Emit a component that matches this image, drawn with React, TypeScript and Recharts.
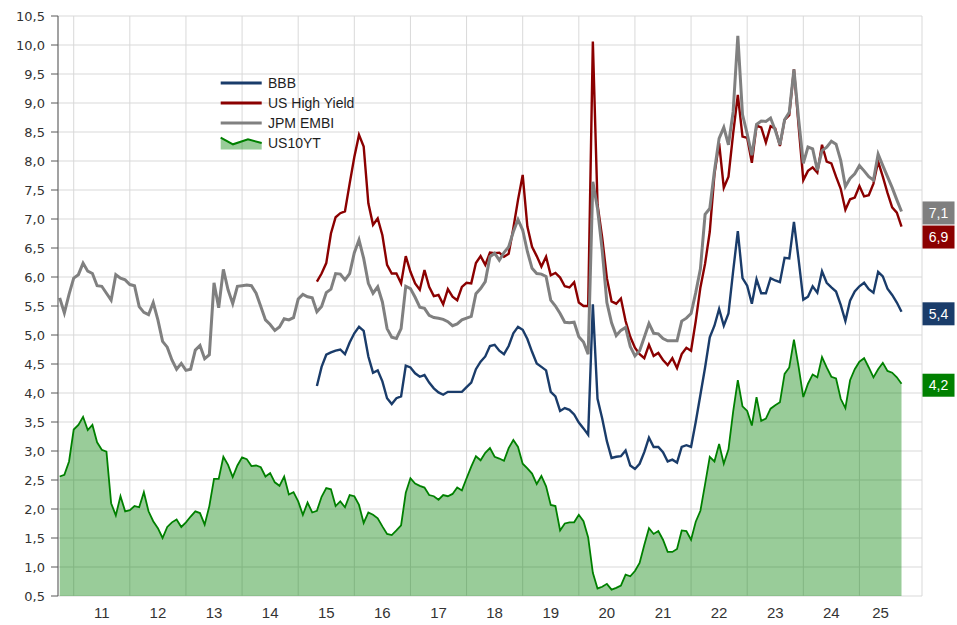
import { ComposedChart, Line, Area, XAxis, YAxis, CartesianGrid, Legend } from 'recharts'

// monthly observations, first one is Oct 2010
const FIRST_YEAR = 2010
const FIRST_MONTH = 10
// BBB and US High Yield only start in May 2015 (55 months later)
const CREDIT_OFFSET = 55

const us10yt = [
  2.56, 2.59, 2.82, 3.37, 3.45, 3.59, 3.36, 3.45, 3.15, 3.02,
  2.99, 2.10, 1.89, 2.22, 1.96, 1.98, 2.05, 2.03, 2.29, 1.96,
  1.79, 1.67, 1.50, 1.69, 1.77, 1.82, 1.69, 1.77, 1.87, 1.96,
  1.93, 1.73, 2.05, 2.52, 2.52, 2.90, 2.76, 2.55, 2.75, 2.89,
  2.86, 2.74, 2.75, 2.72, 2.56, 2.62, 2.46, 2.40, 2.56, 2.25,
  2.29, 2.13, 1.90, 2.11, 1.94,
  1.97, 2.21, 2.36, 2.34, 2.05, 2.13, 2.03, 2.24, 2.22, 2.07,
  1.76, 1.94, 1.90, 1.84, 1.70, 1.57, 1.55, 1.63, 1.72, 2.28,
  2.53, 2.44, 2.40, 2.37, 2.24, 2.22, 2.16, 2.24, 2.22, 2.26,
  2.37, 2.32, 2.53, 2.73, 2.91, 2.84, 2.97, 3.05, 2.90, 2.87,
  2.83, 3.05, 3.19, 3.07, 2.78, 2.70, 2.61, 2.43, 2.57, 2.39,
  2.07, 2.05,
  1.63, 1.75, 1.77, 1.77, 1.90, 1.79, 1.51, 0.90, 0.63, 0.66,
  0.71, 0.61, 0.64, 0.68, 0.87, 0.84, 0.93, 1.07, 1.38, 1.67,
  1.57, 1.62, 1.47, 1.26, 1.26, 1.31, 1.63, 1.62, 1.47,
  1.78, 1.97, 2.43, 2.90, 2.82, 3.12, 2.78, 3.03, 3.68, 4.22,
  3.77, 3.69, 3.44, 3.93, 3.52, 3.56, 3.73, 3.79, 3.84, 4.33,
  4.44, 4.92, 4.45, 3.93, 4.16, 4.32, 4.27, 4.62, 4.44, 4.28,
  4.25, 3.90, 3.74, 4.22, 4.41, 4.54, 4.60, 4.44, 4.27, 4.41,
  4.52, 4.38, 4.35, 4.27, 4.16,
]

const embi = [
  5.64, 5.38, 5.70, 5.98, 6.04, 6.24, 6.10, 6.06, 5.85, 5.84,
  5.72, 5.60, 6.04, 5.98, 5.95, 5.87, 5.85, 5.49, 5.39, 5.35,
  5.56, 5.26, 4.89, 4.79, 4.57, 4.41, 4.51, 4.39, 4.41, 4.74,
  4.82, 4.59, 4.66, 5.90, 5.47, 6.13, 5.78, 5.54, 5.84, 5.85,
  5.86, 5.85, 5.72, 5.49, 5.26, 5.18, 5.08, 5.14, 5.28, 5.26,
  5.30, 5.62, 5.70, 5.66, 5.64,
  5.40, 5.49, 5.73, 5.79, 6.06, 6.05, 5.95, 6.06, 6.42, 6.64,
  6.32, 5.89, 5.72, 5.83, 5.57, 5.11, 4.96, 4.94, 5.11, 5.84,
  5.80, 5.65, 5.48, 5.46, 5.34, 5.30, 5.29, 5.27, 5.23, 5.16,
  5.19, 5.26, 5.29, 5.32, 5.71, 5.80, 5.92, 6.35, 6.41, 6.29,
  6.42, 6.52, 6.78, 6.99, 6.81, 6.44, 6.15, 6.06, 6.05, 6.01,
  5.60, 5.50,
  5.37, 5.22, 5.21, 5.22, 4.97, 4.88, 4.67, 7.64, 7.18, 6.46,
  5.56, 5.21, 4.99, 5.08, 5.13, 4.80, 4.64, 4.73, 4.96, 5.20,
  5.03, 5.02, 4.94, 4.90, 4.90, 4.90, 5.24, 5.29, 5.37,
  5.73, 6.14, 7.08, 7.18, 7.83, 8.39, 8.58, 8.28, 8.85, 10.16,
  8.80, 8.47, 8.10, 8.63, 8.69, 8.68, 8.74, 8.53, 8.28, 8.71,
  8.84, 9.58, 8.72, 7.96, 8.24, 8.21, 7.84, 8.18, 8.24, 8.34,
  8.29, 8.01, 7.56, 7.70, 7.78, 7.92, 7.83, 7.73, 7.67, 8.12,
  7.92, 7.73, 7.54, 7.33, 7.13,
]

const highYield = [
  5.92, 6.06, 6.24, 6.75, 7.03, 7.10, 7.13, 7.61, 8.07, 8.45,
  8.25, 7.27, 6.90, 7.01, 6.72, 6.21, 6.06, 6.06, 5.89, 6.36,
  6.09, 5.89, 5.78, 6.12, 5.83, 5.67, 5.69, 5.53, 5.79, 5.66,
  5.60, 5.83, 5.90, 5.89, 6.24, 6.36, 6.21, 6.42, 6.41, 6.42,
  6.35, 6.40, 6.84, 7.33, 7.76, 6.87, 6.52, 6.36, 6.18, 6.35,
  6.03, 6.07,
  5.99, 5.84, 5.82, 5.91, 5.56, 5.50, 5.50, 10.06, 7.25, 6.68,
  5.98, 5.58, 5.54, 5.63, 5.24, 4.97, 4.78, 4.67, 4.60, 4.83,
  4.64, 4.69, 4.57, 4.48, 4.60, 4.43, 4.67, 4.78, 4.73,
  5.24, 5.82, 6.23, 6.78, 7.77, 8.31, 7.54, 7.73, 8.47, 9.14,
  8.42, 8.40, 7.97, 8.61, 8.58, 8.32, 8.60, 8.56, 8.26, 8.71,
  8.79, 9.58, 8.60, 7.67, 7.83, 7.89, 7.80, 8.28, 7.99, 7.96,
  7.73, 7.52, 7.16, 7.34, 7.37, 7.57, 7.39, 7.41, 7.61, 7.99,
  7.73, 7.45, 7.20, 7.11, 6.87,
]

const bbb = [
  4.12, 4.45, 4.66, 4.70, 4.73, 4.75, 4.67, 4.87, 5.03, 5.14,
  5.07, 4.63, 4.35, 4.39, 4.20, 3.91, 3.81, 3.91, 3.94, 4.47,
  4.44, 4.34, 4.28, 4.31, 4.18, 4.08, 4.01, 3.97, 4.02, 4.02,
  4.02, 4.02, 4.10, 4.18, 4.41, 4.54, 4.63, 4.81, 4.83, 4.73,
  4.67, 4.81, 5.03, 5.14, 5.09, 4.93, 4.71, 4.51, 4.45, 4.39,
  4.02, 3.94,
  3.69, 3.74, 3.71, 3.63, 3.49, 3.39, 3.28, 5.53, 3.90, 3.56,
  3.17, 2.88, 2.90, 2.91, 3.01, 2.75, 2.69, 2.78, 2.98, 3.23,
  3.07, 3.07, 2.98, 2.82, 2.85, 2.80, 3.07, 3.10, 3.07,
  3.50, 3.97, 4.44, 4.96, 5.16, 5.45, 5.16, 5.37, 6.10, 6.79,
  5.98, 5.85, 5.54, 5.96, 5.72, 5.72, 5.98, 5.94, 5.91, 6.33,
  6.32, 6.95, 6.30, 5.61, 5.66, 5.84, 5.73, 6.10, 5.90, 5.82,
  5.75, 5.52, 5.24, 5.59, 5.75, 5.84, 5.90, 5.79, 5.73, 6.09,
  6.01, 5.80, 5.69, 5.56, 5.40,
]

const yearLabels = ['11', '12', '13', '14', '15', '16', '17', '18', '19', '20', '21', '22', '23', '24', '25']
const yTicks = [0.5, 1, 1.5, 2, 2.5, 3, 3.5, 4, 4.5, 5, 5.5, 6, 6.5, 7, 7.5, 8, 8.5, 9, 9.5, 10, 10.5]

const NAVY = '#1a3c6a'
const RED = '#8b0000'
const GRAY = '#808080'
const GREEN = '#008000'
const AXIS = '#595959'

const firstT = FIRST_YEAR + (FIRST_MONTH - 1) / 12
const rows = us10yt.map((v, i) => ({
  t: firstT + i / 12,
  ust: v,
  embi: embi[i],
  hy: i >= CREDIT_OFFSET ? highYield[i - CREDIT_OFFSET] : null,
  bbb: i >= CREDIT_OFFSET ? bbb[i - CREDIT_OFFSET] : null,
}))
const LAST = rows.length - 1
const lastT = rows[LAST].t

const X_DOMAIN: [number, number] = [2010.72, 2026.115]
const Y_DOMAIN: [number, number] = [0.5, 10.5]

const yearTicks = yearLabels.map((_, i) => 2011 + i)
// label sits in the middle of the part of the year that holds data
const labelTicks = yearTicks.map((y) => (Math.max(y, firstT) + Math.min(y + 1, lastT)) / 2)
const minorXTicks: number[] = []
for (let y = 2010; y <= 2025; y++) {
  for (let k = 1; k < 6; k++) {
    const t = y + k / 6
    if (t > X_DOMAIN[0]) minorXTicks.push(t)
  }
}
minorXTicks.push(2026)
const minorYTicks = Array.from({ length: 101 }, (_, i) => 0.5 + i * 0.1)

const noLabel = () => <g />
const comma = (v: number) => v.toFixed(1).replace('.', ',')

// value box at the right end of a series
const endBox = (color: string, dy: number) => (props: any) => {
  const { cx, cy, index, value } = props
  if (index !== LAST || value == null) return <g key={index} />
  const v = Array.isArray(value) ? value[1] : value
  const yc = cy + dy
  return (
    <g key={index}>
      <rect x={cx + 21} y={yc - 11.5} width={32} height={23} fill={color} />
      <text
        x={cx + 37}
        y={yc + 5}
        textAnchor="middle"
        fill="#fff"
        fontSize={14}
        fontFamily="'Liberation Sans', Arial, sans-serif"
      >
        {comma(v)}
      </text>
    </g>
  )
}

const legendItems = [
  { name: 'BBB', color: NAVY, width: 3 },
  { name: 'US High Yield', color: RED, width: 3 },
  { name: 'JPM EMBI', color: GRAY, width: 3 },
  { name: 'US10YT', color: GREEN, width: 2, area: true },
]

function LegendBox() {
  return (
    <div style={{ fontFamily: "'Liberation Sans', Arial, sans-serif", fontSize: 14, color: '#1e1e1e' }}>
      {legendItems.map((it) => (
        <div key={it.name} style={{ display: 'flex', alignItems: 'center', height: 20 }}>
          <svg width={44} height={20} style={{ display: 'block' }}>
            {it.area ? (
              <>
                <polygon points="1.7,4.6 14,11.3 29,6.3 42.7,10 42.7,16.6 1.7,16.6" fill={GREEN} fillOpacity={0.4} />
                <polyline points="1.7,4.6 14,11.3 29,6.3 42.7,10" fill="none" stroke={GREEN} strokeWidth={2} />
              </>
            ) : (
              <line x1={1.7} x2={42.7} y1={10} y2={10} stroke={it.color} strokeWidth={it.width} />
            )}
          </svg>
          <span style={{ marginLeft: 5, lineHeight: '20px' }}>{it.name}</span>
        </div>
      ))}
    </div>
  )
}

export default function App() {
  return (
    <div style={{ position: 'absolute', left: 0, top: 0, width: 957, height: 625, background: '#fff' }}>
      <ComposedChart width={957} height={625} data={rows} margin={{ top: 16, right: 35, bottom: 0, left: 0 }}>
        <CartesianGrid stroke="#d9d9d9" />
        <XAxis
          dataKey="t"
          type="number"
          domain={X_DOMAIN}
          ticks={yearTicks}
          interval={0}
          tick={noLabel}
          tickSize={6}
          height={0}
          stroke={AXIS}
        />
        <XAxis
          xAxisId="months"
          dataKey="t"
          type="number"
          domain={X_DOMAIN}
          ticks={minorXTicks}
          interval={0}
          tick={noLabel}
          tickSize={3}
          height={0}
          axisLine={false}
          stroke={AXIS}
        />
        <XAxis
          xAxisId="labels"
          dataKey="t"
          type="number"
          domain={X_DOMAIN}
          ticks={labelTicks}
          interval={0}
          tickLine={false}
          axisLine={false}
          tickSize={6}
          tickMargin={5}
          height={29}
          tickFormatter={(v: number) => yearLabels[Math.floor(v) - 2011]}
          tick={{ fill: '#333', fontSize: 15, fontFamily: "'Liberation Sans', Arial, sans-serif" }}
        />
        <YAxis
          yAxisId="minor"
          type="number"
          domain={Y_DOMAIN}
          ticks={minorYTicks}
          interval={0}
          tick={noLabel}
          tickSize={3}
          width={0}
          axisLine={false}
          stroke={AXIS}
        />
        <YAxis
          type="number"
          domain={Y_DOMAIN}
          ticks={yTicks}
          interval={0}
          width={58}
          tickSize={7}
          tickMargin={6}
          stroke={AXIS}
          tickFormatter={comma}
          tick={{ fill: '#333', fontSize: 13, fontFamily: "'DejaVu Sans', sans-serif" }}
        />
        <Area
          type="linear"
          dataKey="ust"
          name="US10YT"
          stroke={GREEN}
          strokeWidth={1.8}
          fill={GREEN}
          fillOpacity={0.4}
          dot={endBox(GREEN, 1.5)}
          activeDot={false}
          isAnimationActive={false}
        />
        <Line
          type="linear"
          dataKey="bbb"
          name="BBB"
          stroke={NAVY}
          strokeWidth={2.4}
          dot={endBox(NAVY, 2)}
          activeDot={false}
          isAnimationActive={false}
        />
        <Line
          type="linear"
          dataKey="hy"
          name="US High Yield"
          stroke={RED}
          strokeWidth={2.4}
          dot={endBox(RED, 10.5)}
          activeDot={false}
          isAnimationActive={false}
        />
        <Line
          type="linear"
          dataKey="embi"
          name="JPM EMBI"
          stroke={GRAY}
          strokeWidth={3}
          dot={endBox('#7f7f7f', 1.5)}
          activeDot={false}
          isAnimationActive={false}
        />
        <Legend
          layout="vertical"
          align="center"
          verticalAlign="middle"
          wrapperStyle={{ left: 219, top: 73, width: 160 }}
          content={() => <LegendBox />}
        />
      </ComposedChart>
    </div>
  )
}
